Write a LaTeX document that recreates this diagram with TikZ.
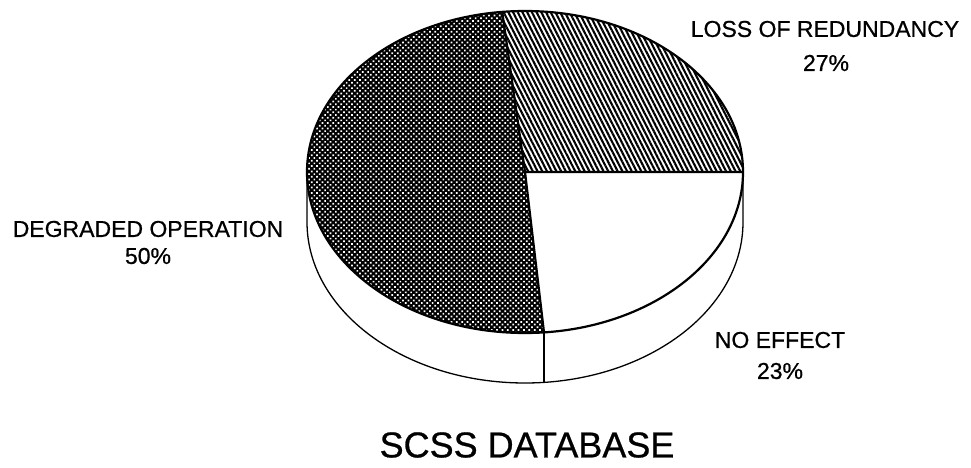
\documentclass[tikz,border=0pt]{standalone}
\usepackage{fontspec}
\setmainfont{Liberation Sans}[UprightFeatures={FakeBold=0.7}]
\usetikzlibrary{patterns.meta}

\begin{document}
\begin{tikzpicture}[
    x=1pt, y=1pt,
    rim/.style={line width=1.3pt},
    edge/.style={line width=2.2pt, line join=round},
    dotted slice/.style={pattern={Dots[radius=1.2pt, distance=3.8pt, angle=45]}, pattern color=white},
    hatched slice/.style={pattern={Lines[angle=-63, distance=4.2pt, line width=2.1pt]}},
    slicelabel/.style={inner sep=0pt, font=\fontsize{23}{27}\selectfont},
    charttitle/.style={inner sep=0pt, font=\fontsize{36}{40}\selectfont}
]
\useasboundingbox (0,0) rectangle (971,467);
\begin{scope}[shift={(525,295)}]
    \coordinate (hub) at (0,0);
    \coordinate (cutA) at (96:218 and 161);
    \coordinate (cutB) at (0:218 and 161);
    \coordinate (cutC) at (-85:218 and 161);
    % side wall
    \draw[rim] (180:218 and 161) -- ++(0,-50) coordinate (wallL)
        arc[start angle=180, end angle=360, x radius=218, y radius=161] coordinate (wallR)
        -- (cutB);
    \draw[rim] (cutC) -- ++(0,-50) coordinate (wallC);
    % degraded operation
    \fill[black] (hub) -- (cutA) arc[start angle=96, end angle=275, x radius=218, y radius=161] -- cycle;
    \path[dotted slice] (hub) -- (cutA) arc[start angle=96, end angle=275, x radius=218, y radius=161] -- cycle;
    % loss of redundancy
    \path[hatched slice] (hub) -- (cutB) arc[start angle=0, end angle=96, x radius=218, y radius=161] -- cycle;
    % outlines
    \draw[edge] (hub) ellipse[x radius=218, y radius=161];
    \draw[edge] (cutA) -- (hub) -- (cutB);
    \draw[edge] (hub) -- (cutC);
\end{scope}

\node[slicelabel] (loss) at (825,438) {LOSS OF REDUNDANCY};
\node[slicelabel] (losspct) at (826,404) {27\%};
\node[slicelabel] (degraded) at (148,238) {DEGRADED OPERATION};
\node[slicelabel] (degradedpct) at (148,211) {50\%};
\node[slicelabel] (noeffect) at (780,127) {NO EFFECT};
\node[slicelabel] (noeffectpct) at (780,96) {23\%};
\node[charttitle] (title) at (527,22) {SCSS DATABASE};
\end{tikzpicture}
\end{document}
